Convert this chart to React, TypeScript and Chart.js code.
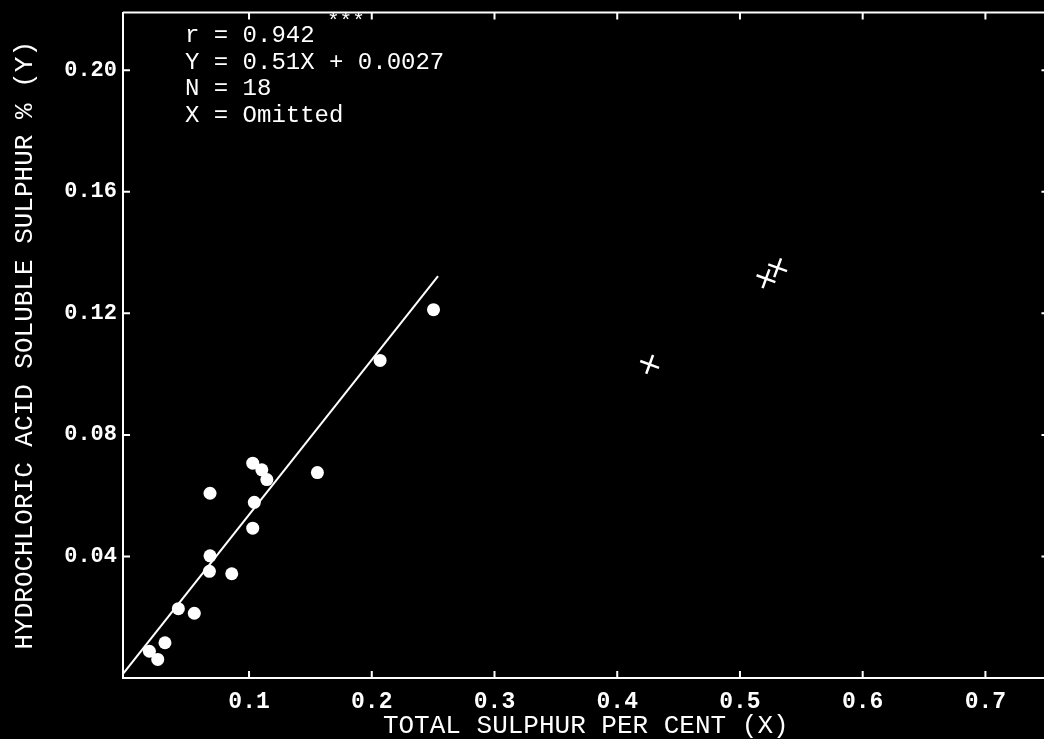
import React, { useEffect, useRef } from "react";
import { Chart, registerables } from "chart.js";

Chart.register(...registerables);

// Samples used in the regression: total sulphur (X) and HCl-soluble sulphur (Y), per cent
const totalSulphur = [0.103, 0.1104, 0.1145, 0.0682, 0.1557, 0.1043, 0.103, 0.0682, 0.0677, 0.0859, 0.0424, 0.0554, 0.0315, 0.0188, 0.0256, 0.2503, 0.2068];
const solubleSulphur = [0.0707, 0.0685, 0.0653, 0.0608, 0.0676, 0.0578, 0.0493, 0.0402, 0.0351, 0.0343, 0.0228, 0.0213, 0.0116, 0.0088, 0.0061, 0.1212, 0.1045];

// Samples left out of the fit (marked with crosses)
const omittedTotal = [0.4264, 0.5212, 0.5307];
const omittedSoluble = [0.1032, 0.1314, 0.135];

// Fitted line Y = 0.51X + 0.0027
const fitSlope = 0.51;
const fitIntercept = 0.0027;
const fitRange = [-0.0027, 0.254];

// Axis ticks
const xTicks = [0.1, 0.2, 0.3, 0.4, 0.5, 0.6, 0.7];
const xTickLabels = ["0.1", "0.2", "0.3", "0.4", "0.5", "0.6", "0.7"];
const yTicks = [0.04, 0.08, 0.12, 0.16, 0.2];
const yTickLabels = ["0.04", "0.08", "0.12", "0.16", "0.20"];

// Statistics block
const statLines = ["r = 0.942", "Y = 0.51X + 0.0027", "N = 18", "X = Omitted"];
const significance = "***";

const MONO = "'Liberation Mono', 'DejaVu Sans Mono', monospace";

// The plot frame runs a few pixels past the visible right edge
const CANVAS_W = 1061;
const CANVAS_H = 739;

const framePlugin = {
  id: "frameTicksStats",
  afterDraw(chart: any) {
    const { ctx, chartArea: a, scales } = chart;
    ctx.save();
    ctx.strokeStyle = "#ffffff";
    ctx.lineWidth = 2;
    ctx.beginPath();
    ctx.moveTo(a.left, a.top);
    ctx.lineTo(a.right, a.top);
    ctx.moveTo(a.right, a.top);
    ctx.lineTo(a.right, a.bottom);
    const len = 7;
    xTicks.forEach((v) => {
      const px = scales.x.getPixelForValue(v);
      ctx.moveTo(px, a.bottom);
      ctx.lineTo(px, a.bottom - len);
      ctx.moveTo(px, a.top);
      ctx.lineTo(px, a.top + len);
    });
    yTicks.forEach((v) => {
      const py = scales.y.getPixelForValue(v);
      ctx.moveTo(a.left, py);
      ctx.lineTo(a.left + len, py);
      ctx.moveTo(a.right, py);
      ctx.lineTo(a.right - len, py);
    });
    ctx.stroke();

    ctx.fillStyle = "#ffffff";
    ctx.textBaseline = "middle";
    ctx.textAlign = "left";
    ctx.font = `24px ${MONO}`;
    statLines.forEach((t, i) => {
      ctx.fillText(t, a.left + 62, a.top + 23 + i * 26.7);
    });
    ctx.font = `21px ${MONO}`;
    ctx.fillText(significance, a.left + 204, a.top + 9);
    ctx.restore();
  },
};

export default function App() {
  const canvasRef = useRef<HTMLCanvasElement | null>(null);

  useEffect(() => {
    if (!canvasRef.current) return;
    const points = totalSulphur.map((x, i) => ({ x, y: solubleSulphur[i] }));
    const omitted = omittedTotal.map((x, i) => ({ x, y: omittedSoluble[i] }));
    const fit = fitRange.map((x) => ({ x, y: fitSlope * x + fitIntercept }));

    const chart = new Chart(canvasRef.current, {
      type: "scatter",
      data: {
        datasets: [
          {
            data: fit,
            showLine: true,
            borderColor: "#ffffff",
            borderWidth: 2,
            pointRadius: 0,
          },
          {
            data: points,
            pointRadius: 6.5,
            backgroundColor: "#ffffff",
            borderWidth: 0,
          },
          {
            data: omitted,
            pointStyle: "cross",
            rotation: 20,
            pointRadius: 10,
            borderColor: "#ffffff",
            borderWidth: 2.5,
          },
        ],
      },
      options: {
        responsive: false,
        animation: false,
        events: [],
        layout: { padding: { top: 12, right: 0, bottom: 0, left: 0 } },
        plugins: {
          legend: { display: false },
          tooltip: { enabled: false },
        },
        scales: {
          x: {
            type: "linear",
            min: -0.0027,
            max: 0.7514,
            afterFit: (scale: any) => {
              scale.height = 61;
              scale.paddingLeft = 0;
              scale.paddingRight = 0;
            },
            afterBuildTicks: (scale: any) => {
              scale.ticks = xTicks.map((value) => ({ value }));
            },
            grid: { display: false, drawTicks: false },
            border: { display: true, color: "#ffffff", width: 2 },
            ticks: {
              color: "#ffffff",
              padding: 10,
              font: { family: MONO, size: 23, weight: "bold" },
              callback: (_v: any, i: number) => xTickLabels[i],
            },
            title: {
              display: true,
              text: "TOTAL SULPHUR PER CENT (X)",
              color: "#ffffff",
              font: { family: MONO, size: 26, lineHeight: 1 },
              padding: { top: 0, bottom: 0 },
            },
          },
          y: {
            type: "linear",
            min: 0,
            max: 0.219,
            afterFit: (scale: any) => {
              scale.width = 123;
              scale.paddingTop = 0;
              scale.paddingBottom = 0;
            },
            afterBuildTicks: (scale: any) => {
              scale.ticks = yTicks.map((value) => ({ value }));
            },
            grid: { display: false, drawTicks: false },
            border: { display: true, color: "#ffffff", width: 2 },
            ticks: {
              color: "#ffffff",
              padding: 6,
              font: { family: MONO, size: 22, weight: "bold" },
              callback: (_v: any, i: number) => yTickLabels[i],
            },
            title: {
              display: true,
              text: "HYDROCHLORIC ACID SOLUBLE SULPHUR % (Y)",
              color: "#ffffff",
              font: { family: MONO, size: 26, lineHeight: 1 },
              padding: { top: 12, bottom: 0 },
            },
          },
        },
      },
      plugins: [framePlugin],
    });
    return () => chart.destroy();
  }, []);

  return (
    <div
      style={{
        position: "fixed",
        left: 0,
        top: 0,
        width: 1044,
        height: 739,
        background: "#000000",
        overflow: "hidden",
      }}
    >
      <canvas ref={canvasRef} width={CANVAS_W} height={CANVAS_H} style={{ display: "block" }} />
    </div>
  );
}
